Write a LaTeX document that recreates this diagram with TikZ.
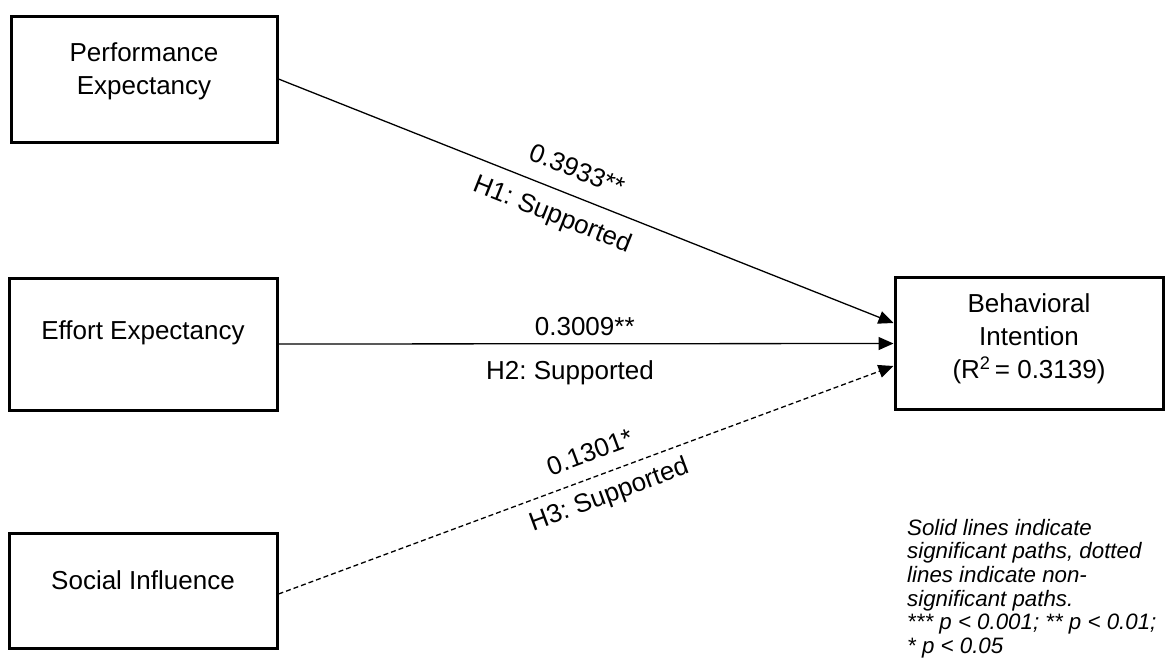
\documentclass[tikz,border=0pt]{standalone}
\usepackage{fontspec}
\setmainfont{Liberation Sans}
\usetikzlibrary{arrows.meta}
\frenchspacing

\tikzset{
  construct/.style={draw=black, line width=3pt, rectangle, inner sep=0pt},
  boxtext/.style={font=\fontsize{26}{33}\selectfont, align=center, inner sep=0pt},
  path/.style={line width=1.3pt, -{Triangle[length=15pt,width=13pt]}},
  nonsig/.style={path, dash pattern=on 5pt off 3pt},
  coef/.style={font=\fontsize{26}{30}\selectfont, inner sep=0pt},
  note/.style={font=\fontsize{22.3}{23.6}\selectfont\itshape, align=left, inner sep=0pt}
}

\begin{document}
\begin{tikzpicture}[x=1pt,y=-1pt]
\useasboundingbox (0,0) rectangle (1174,670);

% constructs
\node[construct, minimum width=266pt, minimum height=126pt] (pe) at (144,79) {};
\node[construct, minimum width=268pt, minimum height=132pt] (ee) at (143,344) {};
\node[construct, minimum width=268pt, minimum height=115pt] (si) at (143,590.5) {};
\node[construct, minimum width=268pt, minimum height=132pt] (bi) at (1029,343.5) {};

\node[boxtext] (petext) at ([yshift=8pt]pe.center) {Performance\\Expectancy};
\node[boxtext] (eetext) at ([yshift=11pt]ee.center) {Effort Expectancy};
\node[boxtext] (sitext) at ([yshift=10pt]si.center) {Social Influence};
\node[boxtext] (bitext) at ([yshift=5pt]bi.center) {Behavioral\\Intention\\(R\textsuperscript{2}\,= 0.3139)};

% structural paths
\draw[path] (pe.east) -- ([yshift=20.5pt]bi.west)
  node[coef, pos=0.47, sloped, above=16pt] (c1) {0.3933**}
  node[coef, pos=0.46, sloped, below=13pt] (h1) {H1: Supported};
\draw[path] (ee.east) -- (bi.west)
  node[coef, pos=0.498, above=7pt] (c2) {0.3009**}
  node[coef, pos=0.474, below=16pt] (h2) {H2: Supported};
\draw[nonsig] ([yshift=-3.5pt]si.east) -- ([yshift=-22.5pt]bi.west)
  node[coef, pos=0.52, sloped, above=15pt] (c3) {0.1301*}
  node[coef, pos=0.525, sloped, below=10pt] (h3) {H3: Supported};

% legend
\node[note, anchor=north west] (legend) at (907,519) {Solid lines indicate\\significant paths, dotted\\lines indicate non-\\significant paths.\\*** \textit{p} < 0.001; ** \textit{p} < 0.01;\\* \textit{p} < 0.05};
\end{tikzpicture}
\end{document}
